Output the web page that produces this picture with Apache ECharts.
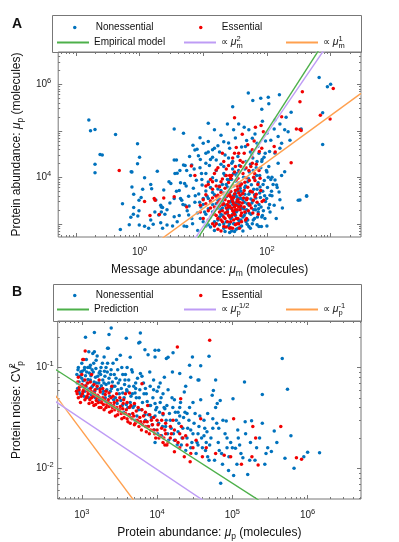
<!DOCTYPE html>
<html><head><meta charset="utf-8">
<script src="https://cdn.jsdelivr.net/npm/echarts@6/dist/echarts.min.js"></script>
<style>html,body{margin:0;padding:0;background:#fff}#c{width:399px;height:542px}</style>
</head><body><div id="c"></div>
<script>
// ---------- Panel A: message abundance (x) vs protein abundance (y), molecules ----------
const nonessentialA = [
[0.16,170000],[0.17,100000],[0.2,107000],[0.42,83000],[0.93,53000],[0.24,31000],[1.0,27000],[0.2,19000],[0.93,19500],[0.2,12600],
[0.76,13000],[1.9,13500],[1.2,9800],[0.76,6200],[1.55,5700],[0.81,4300],[1.06,3700],[0.54,2700],[0.98,3200],[0.81,2250],
[0.98,1900],[0.8,1600],[0.73,1380],[0.94,1470],[1.74,1800],[0.69,950],[0.99,940],[1.2,890],[1.64,980],[2.15,1050],
[1.39,800],[0.5,750],[2.3,800],[2.3,2250],[2.15,2500],[0.26,30000],[0.74,13200],[1.12,5500],[1.5,7000],[1.8,3250],
[660,1400000],[890,890000],[1000,1000000],[750,245000],[345,110000],[750,51000],[420,4000],[330,3250],[190,13200],[170,54000],
[51,650000],[80,500000],[105,530000],[60,450000],[107,380000],[157,600000],[29,330000],[83,290000],[240,250000],[3.5,110000],
[4.9,89000],[6.9,49000],[12,145000],[15,105000],[8.9,71000],[12,59000],[21,58000],[24,140000],[36,140000],[30,105000],
[52,105000],[100,89000],[134,170000],[160,140000],[190,105000],[200,195000],[215,96000],[230,63000],[150,75000],[115,63000],
[160,42000],[59,69000],[70,54000],[46,46000],[26,42000],[18,35000],[15,42000],[12,35000],[94,33000],[134,33000],
[3.8,23500],[8.4,29000],[14,39000],[16,23500],[11,20000],[21,17000],[29,22000],[9.4,12000],[5.5,14000],[4.3,14000],
[75,33000],[83,22000],[107,17000],[150,20000],[170,11000],[120,10000],[2.2,2300],[2.0,1550],[2.7,940],[3.9,1100],
[5.5,870],[310,3200],[420,3900],[134,8800],[142,6800],[112,4100],[83,1400],[75,870],[52,870],[62,2000],
[100,13000],[3.5,3500],[2.4,5300],[2.7,2000],[3.5,23500],[3.9,12200],[4.9,18500],[3.1,7400],[7.4,38500],[10,54000],
[6.6,18500],[4.4,3500],[5.2,2500],[3.5,1420],[5.9,1550],[2.2,1800],[1.5,1200],
[4.2,5200],[4.8,2600],[5.1,7400],[5.6,1900],[5.9,3900],[6.3,11000],[6.6,1300],[7.0,5800],[7.4,2900],[7.8,8600],
[8.1,1700],[8.5,4400],[8.9,16000],[9.2,2300],[9.6,6800],[10,1100],[10,3500],[11,12000],[11,900],[11,5100],
[12,2100],[12,7900],[13,1400],[13,3000],[13,24000],[14,9800],[14,1800],[15,4200],[15,720],[16,2700],
[16,14000],[17,1200],[17,5600],[18,3400],[18,950],[19,19000],[19,2000],[20,7000],[20,1500],[21,4600],
[21,800],[22,2500],[22,11000],[23,1100],[23,3800],[24,6200],[24,1700],[25,26000],[25,900],[26,2900],
[26,9000],[27,1300],[27,4900],[28,2100],[28,700],[29,15000],[29,3300],[30,1000],[30,6500],[31,2400],
[32,1500],[32,8200],[33,3900],[33,760],[34,12000],[34,1900],[35,5200],[36,2700],[36,1200],[37,18000],
[38,3500],[38,850],[39,7300],[40,2200],[41,4400],[42,1400],[43,10000],[44,2900],[45,6000],[46,1700],
[47,22000],[48,3600],[49,980],[50,8000],[52,2500],[53,13000],[54,4800],[56,1600],[57,6900],[58,31000],
[60,3100],[61,1200],[63,9500],[64,4200],[66,2000],[68,16000],[70,5500],[71,1400],[73,7600],[75,2600],
[77,11000],[79,3700],[82,880],[84,24000],[86,5000],[88,1900],[91,8500],[95,3000],[98,14000],[102,6000],
[106,2200],[110,36000],[115,9000],[120,4000],
[12,950],[13,6000],[14,2600],[15,1100],[16,8500],[17,3200],[18,1400],[19,5200],[20,2200],[21,12000],
[22,680],[23,7000],[24,2000],[25,4500],[26,1000],[27,3000],[28,9000],[29,1600],[30,4000],[31,680],
[32,2800],[33,11000],[34,1300],[35,3600],[36,7500],[37,1100],[38,2300],[39,5000],[40,900],[42,3300],
[44,1500],[46,6500],[48,2000],[50,1200],[52,4300],[55,800],[58,2800],[61,14000],[64,1300],[67,3600],
[70,950],[74,2100],[78,6200],[85,1500],[92,4000],[100,900],[110,2600],[125,7000],[140,1300],[160,3300],
[2.5,1600],[3,2800],[3.3,900],[3.8,5000],[4.2,1500],[4.6,3200],[5,900],[5.4,6500],[6,2400],[6.8,1000],
[7.5,4000],[8.2,720],[8.8,2900],[9.5,9000],[10.5,1800],[11.5,3900],[2.9,8000],[3.6,12000],[4.4,7600],[5.2,18000],
[6.1,28000],[7.2,15000],[8,40000],[9,24000],[11,33000],[12.5,18000],[14,27000],[17,48000],[19,80000],
[22,30000],[25,55000],[28,20000],[32,70000],[35,28000],[40,45000],[44,120000],[48,62000],[55,35000],[65,85000],
[72,46000],[85,160000],[95,60000],[130,110000],
[9,1300],[10,2600],[11,1600],[12,3500],[13,850],[14,4700],[15,1900],[16,1000],[17,2200],[18,6500],
[19,1600],[20,3100],[21,1000],[22,4000],[23,1700],[24,9000],[25,2200],[26,650],[27,6000],[28,1400],
[29,2600],[30,12000],[31,1000],[32,4500],[33,1800],[34,3300],[35,800],[36,14000],[37,2500],[38,5800],
[39,1200],[40,3500],[42,700],[43,2100],[45,4300],[47,1100],[49,2700],[51,9500],[53,1700],[56,3400],
[59,1000],[62,5500],[66,2400],[69,11000],[73,1800],[77,4600],[81,2300],[87,7000],[93,1300],[99,3500],
[105,10000],[112,1800],[118,5000],[130,2500],[145,6000],[155,4800],[175,2200],[70,22000],[80,16000],[90,27000],
[55,19000],[45,15000],[60,26000]
];
const essentialA = [
[9,2500],[10,1300],[11,4200],[12,1900],[12,7000],[13,3100],[14,1000],[14,5500],[15,2300],[15,12000],
[16,1500],[16,3900],[17,2800],[17,760],[18,6300],[18,1800],[19,4700],[19,1200],[20,2600],[20,9200],
[21,3500],[21,880],[22,1700],[22,5800],[23,2200],[23,15000],[24,4000],[24,1100],[25,3000],[25,7700],
[26,1400],[26,2400],[27,5000],[27,820],[28,3400],[28,11000],[29,1900],[29,6600],[30,2700],[30,1200],
[31,4400],[32,17000],[32,2000],[33,8800],[34,3000],[34,1000],[35,5600],[36,2300],[37,13000],[38,4100],
[39,1500],[40,7200],[41,2800],[42,21000],[44,5200],[45,1800],[47,9800],[48,3300],[50,6100],[52,14000],
[54,2500],[57,28000],[59,4800],[62,10000],[65,3800],[68,19000],[72,7000],[76,36000],[80,5200],
[14,1600],[15,900],[16,2100],[17,1300],[18,3000],[19,700],[20,1900],[21,1400],[22,3300],[23,850],
[24,2600],[25,1500],[26,4200],[27,1100],[28,2200],[29,800],[30,3700],[31,1600],[32,950],[33,2500],
[34,6500],[35,1300],[36,4600],[37,800],[38,2000],[40,1100],[43,3600],[45,7800],[48,1300],[52,2700],
[55,5000],[60,1700],[65,8500],[70,2900],[11,6500],[13,9000],[17,16000],[21,22000],[25,18000],[29,26000],
[33,44000],[38,23000],[44,33000],[50,50000],[56,17000],[63,60000],[75,14000],[88,95000],
[12,1200],[13,2200],[14,3600],[15,1600],[16,1000],[17,4100],[18,2400],[19,3300],[20,1100],[21,2700],
[22,1300],[23,4500],[24,1800],[25,2300],[26,800],[27,3800],[28,1500],[29,3000],[30,1800],[31,2300],
[32,5200],[33,1300],[34,2000],[35,3300],[36,1000],[37,2900],[38,6600],[39,2400],[40,1700],[42,4500],
[44,2300],[46,1200],[49,3500],[51,1900],[53,8500],[57,2200],[61,3200],[64,12000],[68,4300],[73,1600],
[78,9500],[84,3000],[27,9500],[23,11000],[31,13000],[35,9500],[42,12000],[47,16000],[19,8000],[16,6500],
[14,8000],[10,3300],[9,1800],[11,2700],
[3.5,3800],[2.4,3600],[1.7,3500],[5.5,2300],[6.5,17500],[7.4,11000],[16,14400],[20,33000],[26,11000],[31,33000],
[36,33000],[39,17000],[41,84000],[59,39000],[59,20000],[66,120000],[81,130000],[83,42000],[89,3200],[130,46000],
[135,35000],[170,200000],[240,20500],[290,110000],[330,107000],[345,102000],[360,690000],[330,420000],[1100,810000],[690,215000],
[980,180000],[0.48,14000],[1.2,3000],[1.76,3200],[1.46,1500],[2.05,1580],[31,190000]
];
// fitted / reference lines (end points, molecules)
const empiricalA = [[3,57],[1000,13500000]];
const squareA = [[3,79],[1000,8800000]];
const linearA = [[1,214],[3000,640000]];
// axis tick labels (powers of ten)
const xLabelsA = [0, 2];
const yLabelsA = [4, 6];

// ---------- Panel B: protein abundance (x) vs protein noise CV^2 (y) ----------
const nonessentialB = [
[1470,0.222],[2460,0.247],[2300,0.212],[1120,0.2],[6000,0.22],[5700,0.175],[2250,0.155],[29500,0.127],[38000,0.104],[27000,0.105],
[14000,0.126],[16300,0.14],[9400,0.127],[10500,0.148],[6900,0.15],[7600,0.134],[3250,0.132],[4400,0.126],[1980,0.127],[1400,0.138],
[1240,0.143],[20000,0.087],[35000,0.075],[23000,0.057],[38000,0.048],[6000,0.087],[5100,0.056],[10500,0.064],[9400,0.044],[12700,0.039],
[19000,0.036],[28000,0.024],[42000,0.021],[45000,0.018],[35000,0.017],[9400,0.018],[3900,0.195],[5900,0.178],[2200,0.155],[1470,0.143],
[13300,0.123],[9400,0.148],[36000,0.075],
[49000,0.129],[60000,0.075],[460000,0.123],[145000,0.072],[540000,0.061],[250000,0.054],[56000,0.059],[54000,0.053],[69000,0.047],[63000,0.044],
[102000,0.049],[55000,0.031],[83000,0.0295],[148000,0.029],[180000,0.0296],[250000,0.028],[360000,0.0235],[118000,0.024],[600000,0.021],[390000,0.018],
[174000,0.018],[295000,0.016],[330000,0.0147],[1000000,0.0144],[1440000,0.0143],[890000,0.013],[500000,0.0126],[660000,0.01],[138000,0.0127],[160000,0.0087],
[104000,0.0085],[70000,0.0071],[89000,0.0095],[85000,0.016],[110000,0.0158],[49000,0.012],
[1300,0.105],[1550,0.118],[1750,0.092],[2100,0.1],[2600,0.11],[3000,0.095],[3500,0.085],[4000,0.1],[4700,0.09],[5200,0.07],
[6300,0.082],[7000,0.062],[8000,0.09],[9000,0.075],[11000,0.07],[12000,0.055],[14000,0.06],[17000,0.048],[20000,0.04],[25000,0.035],
[30000,0.045],[16000,0.09],[24000,0.065],[28000,0.08],[47000,0.035],[60000,0.04],[66000,0.025],[75000,0.03],[120000,0.02],[95000,0.018],
[130000,0.014],[200000,0.012],[270000,0.011],[115000,0.011],
[860,0.085],[880,0.062],[900,0.1],[920,0.072],[950,0.055],[970,0.09],[1000,0.078],[1000,0.11],[1050,0.066],[1080,0.095],
[1100,0.058],[1120,0.083],[1150,0.12],[1180,0.07],[1200,0.1],[1230,0.061],[1260,0.088],
[1300,0.075],[1330,0.054],[1370,0.095],[1400,0.066],[1440,0.11],[1480,0.058],[1520,0.08],[1560,0.07],[1600,0.13],[1650,0.052],
[1700,0.088],[1750,0.062],[1800,0.1],[1850,0.048],[1900,0.075],[1950,0.058],
[2000,0.092],[2050,0.05],[2100,0.068],[2200,0.11],[2250,0.045],[2300,0.078],[2400,0.058],[2450,0.095],[2500,0.042],[2600,0.065],
[2700,0.085],[2800,0.05],[2900,0.12],[3000,0.06],[3100,0.038],
[3200,0.075],[3300,0.047],[3400,0.1],[3500,0.056],[3600,0.036],[3700,0.068],[3800,0.085],[3900,0.043],[4000,0.058],[4200,0.075],
[4300,0.034],[4500,0.052],[4600,0.095],[4800,0.04],[4900,0.065],
[5100,0.03],[5300,0.05],[5500,0.078],[5700,0.038],[5900,0.06],[6100,0.028],[6400,0.045],[6600,0.07],[6900,0.034],[7200,0.055],
[7500,0.026],[7800,0.042],
[8100,0.065],[8400,0.032],[8800,0.05],[9200,0.024],[9600,0.038],[10000,0.058],[10500,0.028],[11000,0.045],[11500,0.021],[12000,0.034],
[12500,0.08],[13000,0.026],[13500,0.042],[14200,0.019],[15000,0.03],[15800,0.05],[16500,0.022],[17500,0.036],[18500,0.017],[19500,0.028],
[20500,0.045],[21500,0.02],[22500,0.032],[24000,0.015],[25500,0.025],[27000,0.04],[29000,0.018],[31000,0.028],
[33000,0.014],[35000,0.022],[37000,0.033],[40000,0.016],[43000,0.025],[47000,0.013],
[52000,0.02],[58000,0.012],[62000,0.028],[67000,0.015],[74000,0.011],[80000,0.022],[90000,0.013],
[870,0.07],[890,0.095],[910,0.058],[940,0.082],[990,0.065],[1010,0.092],[1040,0.074],[1070,0.052],[1090,0.1],[1140,0.064],
[1160,0.09],[1210,0.076],[1240,0.05],[1280,0.1],[1320,0.083],[1360,0.064],[1420,0.09],[1460,0.072],[1510,0.05],[1540,0.098],
[1590,0.062],[1630,0.082],[1680,0.07],[1720,0.048],[1780,0.085],[1820,0.066],[1880,0.11],[1920,0.055],[1970,0.07],[2030,0.082],
[2080,0.046],[2150,0.06],[2180,0.09],[2280,0.07],[2350,0.052],[2420,0.085],[2480,0.062],[2550,0.072],[2650,0.048],[2750,0.065],
[2850,0.078],[2950,0.044],[3050,0.07],[3150,0.055],[3350,0.062],[3450,0.042],[3650,0.05],[3750,0.075],[3950,0.06],[4100,0.04],
[4250,0.065],[4400,0.045],[4700,0.055],[5000,0.042],[5200,0.062],[5400,0.033],[5800,0.05],[6200,0.038],[6700,0.055],[7000,0.03],
[7400,0.046],[7700,0.034],[8200,0.042],[8600,0.027],[9000,0.06],[9400,0.033],[9900,0.04],[10200,0.022],[10800,0.036],[11300,0.05],
[11800,0.026],[12400,0.04],[13200,0.03],[13800,0.022],[14600,0.035],[15400,0.025],[16200,0.04],[17000,0.019],[18000,0.03],[19000,0.023],
[20000,0.033],[21000,0.017],[22000,0.025],[23500,0.036],[25000,0.02],[26500,0.03],[28000,0.016],[30000,0.022],[32000,0.035],[34000,0.018],
[36000,0.026],[39000,0.02],[42000,0.03],[44000,0.015],[46000,0.023],[50000,0.017],[55000,0.025],[65000,0.018],[72000,0.014],[85000,0.02],
[100000,0.016],[125000,0.017],[150000,0.022],[170000,0.012],[210000,0.016],[230000,0.02],[280000,0.014]
];
const essentialB = [
[850,0.058],[880,0.072],[900,0.05],[930,0.064],[960,0.045],[1000,0.068],[1020,0.055],[1060,0.06],[1100,0.048],[1130,0.066],
[1170,0.052],[1200,0.058],[1250,0.044],[1300,0.062],[1350,0.05],[1400,0.056],[1450,0.042],[1500,0.06],[1560,0.047],[1620,0.053],
[1700,0.04],[1760,0.057],[1830,0.045],[1900,0.05],[1980,0.038],[2050,0.054],[2150,0.043],[2250,0.048],[2350,0.036],[2450,0.05],
[2560,0.04],[2700,0.045],[2800,0.033],[2950,0.047],[3100,0.037],[3250,0.041],[3400,0.031],[3550,0.044],[3700,0.035],[3900,0.038],
[4100,0.029],[4300,0.04],[4500,0.032],[4750,0.035],[5000,0.027],[5300,0.037],[5600,0.029],[5900,0.032],[6200,0.024],[6600,0.033],
[7000,0.026],[7400,0.029],[7900,0.022],[8400,0.03],[9000,0.024],[9600,0.02],[10300,0.027],[11000,0.021],[12000,0.018],[12700,0.024],
[13500,0.017],[15000,0.02],[16300,0.03],[17000,0.0146],[19000,0.018],[21000,0.026],[23000,0.013],[27500,0.0116],[30000,0.016],[38000,0.031],
[45000,0.016],[78000,0.0135],[104000,0.031],[132000,0.011],[182000,0.013],[187000,0.026],[204000,0.02],[220000,0.0108],[440000,0.026],[710000,0.0127],
[830000,0.0123],[50000,0.186],[18600,0.16],[1030,0.12],[1110,0.146],[1060,0.12],[20600,0.049],[6300,0.069],[4300,0.056],[12700,0.017],
[870,0.055],[920,0.06],[980,0.052],[1040,0.058],[1080,0.064],[1150,0.05],[1220,0.055],[1280,0.048],[1330,0.058],[1380,0.045],
[1430,0.052],[1480,0.055],[1530,0.043],[1600,0.05],[1660,0.045],[1730,0.05],[1800,0.04],[1870,0.047],[1940,0.043],[2000,0.048],
[2100,0.04],[2200,0.045],[2300,0.041],[2400,0.044],[2500,0.037],[2650,0.042],[2750,0.038],[2900,0.04],[3000,0.034],[3200,0.038],
[3350,0.035],[3500,0.039],[3650,0.032],[3800,0.035],[4000,0.031],[4200,0.034],[4400,0.028],[4650,0.031],[4900,0.033],[5150,0.028],
[5450,0.03],[5750,0.026],[6050,0.029],[6400,0.027],[6800,0.029],[7200,0.023],[7700,0.026],[8200,0.024],[8700,0.027],[9300,0.022],
[10000,0.024],[10600,0.02],[11500,0.025],[12300,0.02],[13000,0.022],[14000,0.018],[15500,0.022],[17500,0.019],[20000,0.016],[22000,0.02],
[25000,0.017],[28000,0.014],[33000,0.019],[40000,0.013],[60000,0.014],[95000,0.013],
[900,0.08],[1000,0.085],[1100,0.075],[1200,0.07],[1300,0.072],[1450,0.068],[1600,0.065],[1750,0.06],[1900,0.062],[2100,0.058],
[2300,0.056],[2600,0.052],[2900,0.055],[3200,0.05],[3600,0.048],[4000,0.045],[4500,0.042],[5000,0.044],[5600,0.04],[6300,0.038],
[7000,0.036],[8000,0.034],[9000,0.032],[10000,0.03],[11500,0.03],[13000,0.028],[15000,0.026],[17000,0.024],[20000,0.022],[24000,0.021],
[1350,0.085],[2500,0.065],[3800,0.055],[7500,0.042],[12000,0.035],[1700,0.075]
];
const predictionB = [[300,0.116],[10000000,0.00078]];
const sqrtB = [[300,0.0562],[10000000,0.000308]];
const inverseB = [[300,0.0787],[100000,0.000236]];
const xLabelsB = [3, 4, 5, 6];
const yLabelsB = [-2, -1];

// ---------- build ----------
const BLUE = '#0072BD', RED = '#F20000', GREEN = '#4DB04A', PURPLE = '#BE9CF5', ORANGE = '#FFA04F';
const FONT = 'Liberation Sans, Arial, sans-serif';
const AX = '#777';
const lg = v => Math.log10(v);
const toLog = arr => arr.map(p => [lg(p[0]), lg(p[1])]);

const extA = { x: [-1.277, 3.477], y: [2.716, 6.695] };
const extB = { x: [2.68, 6.709], y: [-2.304, -0.539] };

function majors(ext) { const r = []; for (let n = Math.ceil(ext[0]); n <= Math.floor(ext[1]); n++) r.push(n); return r; }
function minors(ext) { const r = []; for (let n = Math.floor(ext[0]); n <= Math.ceil(ext[1]); n++) for (let k = 2; k <= 9; k++) { const v = n + Math.log10(k); if (v > ext[0] && v < ext[1]) r.push(v); } return r; }

const labelRich = {
  sup: { fontSize: 7.5, lineHeight: 7, verticalAlign: 'top', fontFamily: FONT, color: '#222' }
};
const titleRich = {
  mu: { fontStyle: 'italic', fontSize: 12, lineHeight: 17, fontFamily: FONT, color: '#111' },
  sub: { fontSize: 8.5, lineHeight: 8, verticalAlign: 'bottom', fontFamily: FONT, color: '#111' },
  sup0: { fontSize: 8.5, lineHeight: 8, verticalAlign: 'top', width: 0, fontFamily: FONT, color: '#111' }
};

function axesFor(dim, gi, ext, labelVals, name, nameGap, labelMargin) {
  const pos = dim === 'x' ? ['bottom', 'top'] : ['left', 'right'];
  const base = { type: 'value', gridIndex: gi, min: ext[0], max: ext[1], splitLine: { show: false },
    axisLine: { show: false, onZero: false } };
  const mk = (p, len, vals, withLabel) => Object.assign({}, base, {
    position: p,
    axisTick: { show: true, inside: true, length: len, customValues: vals, lineStyle: { color: AX, width: 1 } },
    axisLabel: withLabel ? {
      show: true, customValues: labelVals, margin: labelMargin, fontSize: 10, fontFamily: FONT, color: '#222',
      lineHeight: 15, rich: labelRich,
      formatter: v => '10{sup|' + Math.round(v) + '}'
    } : { show: false }
  }, withLabel ? { name: name, nameLocation: 'middle', nameGap: nameGap,
    nameTextStyle: { fontSize: 12, fontFamily: FONT, color: '#111', lineHeight: 17, rich: titleRich } } : {});
  return [
    mk(pos[0], 4, majors(ext), true),
    mk(pos[0], 2, minors(ext), false),
    mk(pos[1], 4, majors(ext), false),
    mk(pos[1], 2, minors(ext), false)
  ];
}

const xAxes = [].concat(
  axesFor('x', 0, extA.x, xLabelsA, 'Message abundance: {mu|μ}{sub|m} (molecules)', 23, 8),
  axesFor('x', 1, extB.x, xLabelsB, 'Protein abundance: {mu|μ}{sub|p} (molecules)', 23, 9)
);
const yAxes = [].concat(
  axesFor('y', 0, extA.y, yLabelsA, 'Protein abundance: {mu|μ}{sub|p} (molecules)', 30, 7),
  axesFor('y', 1, extB.y, yLabelsB, 'Protein noise: CV{sup0|2}{sub|p}', 31, 4)
);

const legendNames = {
  'μm^2': '∝ {mu|μ}{sup0|2}{sub|m}',
  'μm^1': '∝ {mu|μ}{sup0|1}{sub|m}',
  'μp^-1/2': '∝ {mu|μ}{sup0|-1/2}{sub|p}',
  'μp^-1': '∝ {mu|μ}{sup0|-1}{sub|p}'
};
const legRich = {
  mu: { fontStyle: 'italic', fontSize: 10.5, lineHeight: 15, fontFamily: FONT, color: '#111' },
  sub: { fontSize: 7.5, lineHeight: 7, verticalAlign: 'bottom', fontFamily: FONT, color: '#111' },
  sup0: { fontSize: 7.5, lineHeight: 7, verticalAlign: 'top', width: 0, fontFamily: FONT, color: '#111' }
};
function leg(name, left, top, isDot) {
  return {
    data: [name], left: left, top: top, padding: 0, selectedMode: false,
    itemWidth: 32, itemHeight: isDot ? 3.5 : 2, icon: isDot ? 'circle' : 'rect',
    textStyle: { fontSize: 10, fontFamily: FONT, color: '#111', lineHeight: 15, rich: legRich },
    formatter: n => legendNames[n] || n
  };
}

function scatter(name, data, gi, color) {
  return { type: 'scatter', name: name, data: toLog(data), xAxisIndex: gi * 4, yAxisIndex: gi * 4,
    symbol: 'circle', symbolSize: 3.5, itemStyle: { color: color, opacity: 1 }, color: color, silent: true };
}
function line(name, data, gi, color) {
  return { type: 'line', name: name, data: toLog(data), xAxisIndex: gi * 4, yAxisIndex: gi * 4,
    symbol: 'none', clip: true, color: color, silent: true, z: 3,
    lineStyle: { color: color, width: 1.4, shadowColor: 'rgba(255,255,255,0.95)', shadowBlur: 2 } };
}

const option = {
  animation: false,
  backgroundColor: '#fff',
  grid: [
    { left: 52, top: 52, width: 309, height: 185, show: true, borderColor: AX, borderWidth: 1, backgroundColor: 'transparent' },
    { left: 53, top: 321, width: 308, height: 178, show: true, borderColor: AX, borderWidth: 1, backgroundColor: 'transparent' }
  ],
  xAxis: xAxes,
  yAxis: yAxes,
  legend: [
    leg('Nonessential', 73, 20, true), leg('Essential', 199, 20, true),
    leg('Empirical model', 57, 35, false), leg('μm^2', 184, 35, false), leg('μm^1', 286, 35, false),
    leg('Nonessential ', 73, 288, true), leg('Essential ', 199, 288, true),
    leg('Prediction', 57, 302, false), leg('μp^-1/2', 184, 302, false), leg('μp^-1', 286, 302, false)
  ],
  graphic: [
    { type: 'rect', shape: { x: 52.5, y: 15.5, width: 309, height: 37 }, style: { fill: 'none', stroke: AX, lineWidth: 1 }, silent: true },
    { type: 'rect', shape: { x: 53.5, y: 284.5, width: 308, height: 37 }, style: { fill: 'none', stroke: AX, lineWidth: 1 }, silent: true },
    { type: 'text', left: 12, top: 17, style: { text: 'A', font: 'bold 14px ' + FONT, fill: '#111' } },
    { type: 'text', left: 12, top: 285, style: { text: 'B', font: 'bold 14px ' + FONT, fill: '#111' } }
  ],
  series: [
    scatter('Nonessential', nonessentialA, 0, BLUE),
    scatter('Essential', essentialA, 0, RED),
    line('μm^1', linearA, 0, ORANGE),
    line('μm^2', squareA, 0, PURPLE),
    line('Empirical model', empiricalA, 0, GREEN),
    scatter('Nonessential ', nonessentialB, 1, BLUE),
    scatter('Essential ', essentialB, 1, RED),
    line('μp^-1', inverseB, 1, ORANGE),
    line('μp^-1/2', sqrtB, 1, PURPLE),
    line('Prediction', predictionB, 1, GREEN)
  ]
};
const chart = echarts.init(document.getElementById('c'), null, { renderer: 'canvas' });
chart.setOption(option);
</script></body></html>
